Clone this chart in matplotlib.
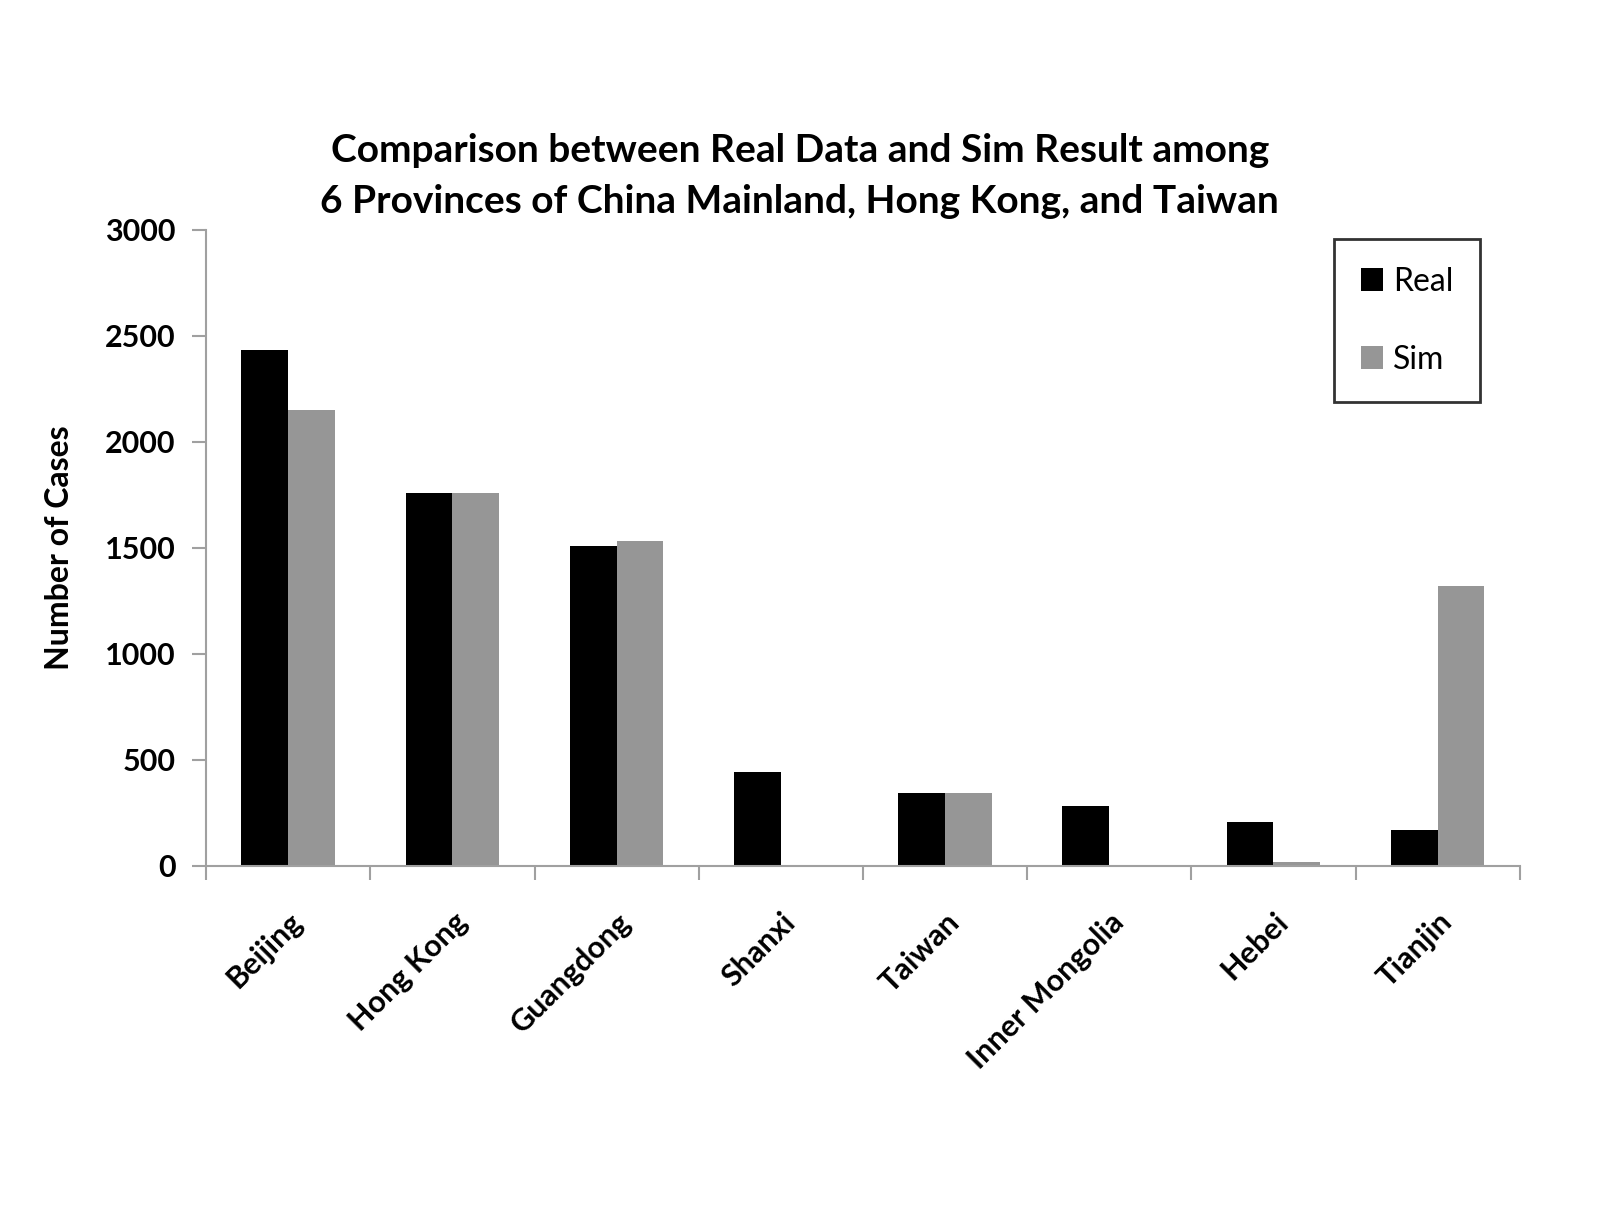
from matplotlib import pyplot as plt
import numpy as np

# Chart data
regions = ["Beijing", "Hong Kong", "Guangdong", "Shanxi", "Taiwan",
           "Inner Mongolia", "Hebei", "Tianjin"]
real_cases = [2434, 1760, 1510, 442, 346, 284, 207, 168]
sim_cases = [2149, 1760, 1534, 0, 346, 0, 19, 1322]
y_ticks = [0, 500, 1000, 1500, 2000, 2500, 3000]

plt.rcParams["font.family"] = ["Lato", "DejaVu Sans"]

fig = plt.figure(figsize=(15.98, 12.23), dpi=100)
ax = fig.add_axes([0.129, 0.292, 0.822, 0.52])

x = np.arange(len(regions))
width = 0.285
ax.bar(x - width / 2, real_cases, width, color="black", label="Real")
ax.bar(x + width / 2, sim_cases, width, color="#969696", label="Sim")

ax.set_xlim(-0.5, len(regions) - 0.5)
ax.set_ylim(0, 3000)
ax.set_yticks(y_ticks)
ax.set_yticklabels([str(t) for t in y_ticks], fontsize=22, fontweight="bold")

# Category labels at centres, tick marks at boundaries
ax.set_xticks(x)
ax.set_xticklabels(regions, rotation=45, ha="right", va="top",
                   rotation_mode="anchor", fontsize=22, fontweight="bold")
ax.tick_params(axis="x", which="major", length=0, pad=30)
ax.set_xticks(np.arange(-0.5, len(regions)), minor=True)
ax.tick_params(axis="x", which="minor", length=10, width=1.5,
               color="#a0a0a0", direction="out")
ax.tick_params(axis="y", length=10, width=1.5, color="#a0a0a0",
               direction="out", pad=12)

for side in ["top", "right"]:
    ax.spines[side].set_visible(False)
for side in ["left", "bottom"]:
    ax.spines[side].set_color("#a0a0a0")
    ax.spines[side].set_linewidth(1.5)

ax.set_ylabel("Number of Cases", fontsize=23, fontweight="bold", labelpad=22)
ax.set_title("Comparison between Real Data and Sim Result among\n"
             "6 Provinces of China Mainland, Hong Kong, and Taiwan",
             fontsize=28, fontweight="bold", linespacing=1.55, pad=12,
             x=0.452)

leg = ax.legend(loc="upper right", bbox_to_anchor=(0.97, 0.985),
                fontsize=23, frameon=True, fancybox=False, handlelength=0.7,
                handleheight=0.7, handletextpad=0.3, labelspacing=1.5,
                borderpad=0.85, borderaxespad=0)
leg.get_frame().set_edgecolor("black")
leg.get_frame().set_linewidth(2)

fig.savefig("out.png", dpi=100)
